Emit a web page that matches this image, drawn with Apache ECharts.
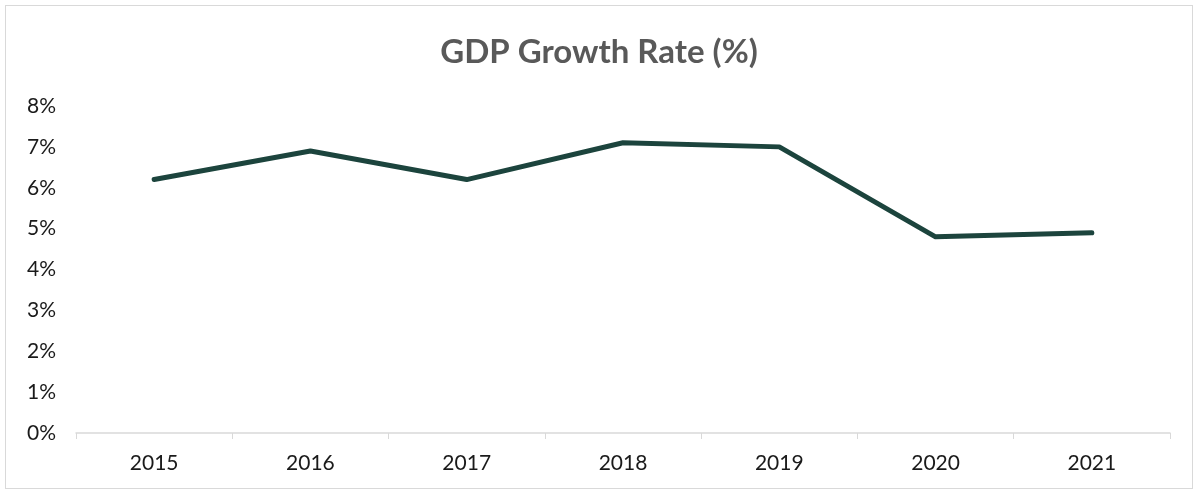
<!DOCTYPE html>
<html>
<head>
<meta charset="utf-8">
<script src="https://cdn.jsdelivr.net/npm/echarts@6/dist/echarts.min.js"></script>
<style>
  html, body { margin: 0; padding: 0; background: #fff; }
  #chart { position: absolute; left: 5px; top: 5px; width: 1188px; height: 484px; border: 1px solid #d9d9d9; box-sizing: border-box; }
</style>
</head>
<body>
<div id="chart"></div>
<script>
const years = ["2015", "2016", "2017", "2018", "2019", "2020", "2021"];
const growth = [6.2, 6.9, 6.2, 7.1, 7.0, 4.8, 4.9];

const chart = echarts.init(document.getElementById("chart"));
chart.setOption({
  animation: false,
  title: {
    text: "GDP Growth Rate (%)",
    left: "center",
    top: 25,
    textStyle: { fontFamily: "Lato", fontWeight: "bold", fontSize: 33, color: "#595959" }
  },
  grid: { left: 70, right: 22, top: 100, bottom: 55 },
  xAxis: {
    type: "category",
    data: years,
    axisLine: { lineStyle: { color: "#d9d9d9", width: 1.5 } },
    axisTick: { show: true, length: 6, lineStyle: { color: "#d9d9d9" } },
    axisLabel: { fontFamily: "Lato", fontSize: 21, color: "#1a1a1a", margin: 20 }
  },
  yAxis: {
    type: "value",
    min: 0,
    max: 8,
    interval: 1,
    splitLine: { show: false },
    axisLine: { show: false },
    axisTick: { show: false },
    axisLabel: { fontFamily: "Lato", fontSize: 21, color: "#1a1a1a", margin: 20, formatter: "{value}%" }
  },
  series: [{
    type: "line",
    data: growth,
    symbol: "none",
    lineStyle: { color: "#1c443d", width: 5, cap: "round", join: "round" }
  }]
});
</script>
</body>
</html>
